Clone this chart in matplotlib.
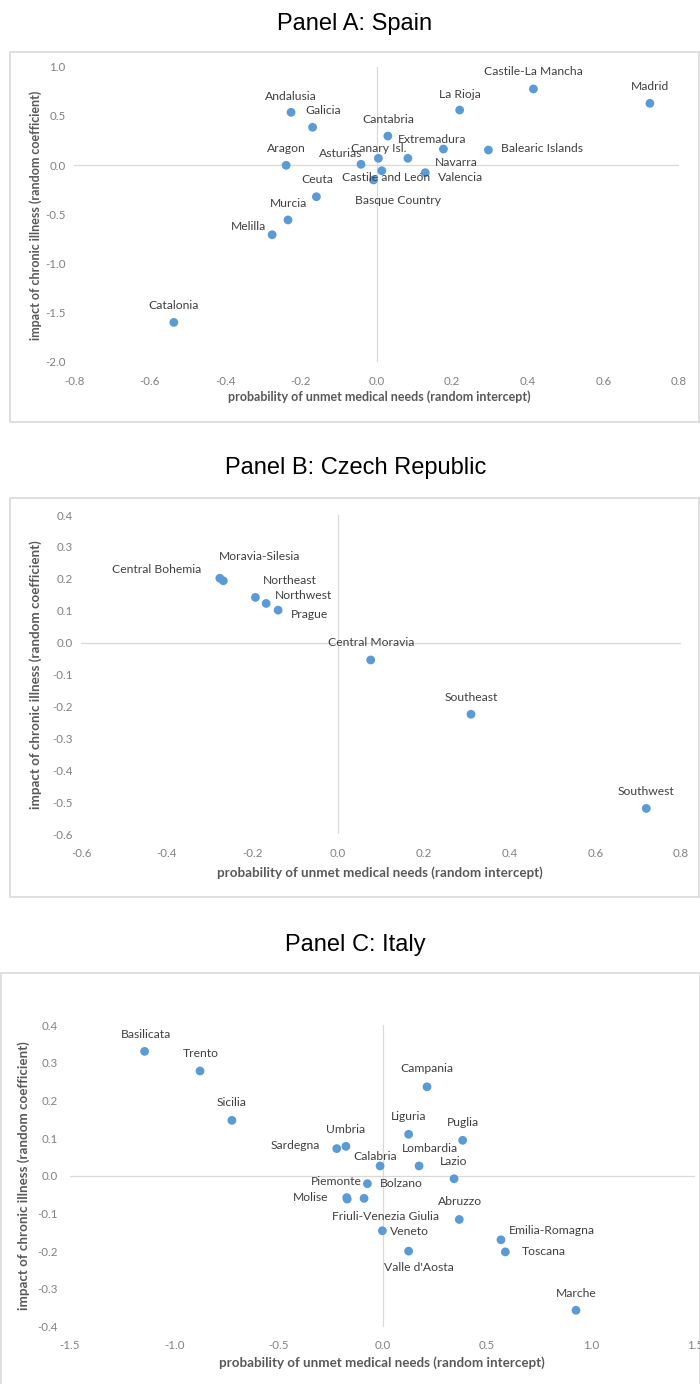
import matplotlib
matplotlib.use("Agg")
import matplotlib.pyplot as plt
from matplotlib.patches import Rectangle

# ---------------- data ----------------
spain_regions = ["Andalusia", "Galicia", "Aragon", "Asturias", "Ceuta", "Murcia", "Melilla",
                 "Catalonia", "Castile-La Mancha", "Madrid", "La Rioja", "Cantabria",
                 "Canary Isl.", "Extremadura", "Navarra", "Valencia", "Basque Country",
                 "Castile and León", "Balearic Islands"]
spain_x = [-0.226, -0.169, -0.239, -0.041, -0.159, -0.234, -0.276, -0.536, 0.415, 0.723,
           0.220, 0.030, 0.005, 0.083, 0.177, 0.129, 0.014, -0.008, 0.296]
spain_y = [0.535, 0.383, -0.003, 0.007, -0.322, -0.558, -0.708, -1.598, 0.772, 0.626,
           0.558, 0.294, 0.068, 0.068, 0.162, -0.078, -0.058, -0.152, 0.152]
spain_xticks = [-0.8, -0.6, -0.4, -0.2, 0.0, 0.2, 0.4, 0.6, 0.8]
spain_yticks = [-2.0, -1.5, -1.0, -0.5, 0.0, 0.5, 1.0]

czech_regions = ["Central Bohemia", "Moravia-Silesia", "Northeast", "Northwest", "Prague",
                 "Central Moravia", "Southeast", "Southwest"]
czech_x = [-0.276, -0.268, -0.193, -0.168, -0.140, 0.076, 0.310, 0.719]
czech_y = [0.202, 0.194, 0.142, 0.123, 0.102, -0.054, -0.224, -0.519]
czech_xticks = [-0.6, -0.4, -0.2, 0.0, 0.2, 0.4, 0.6, 0.8]
czech_yticks = [-0.6, -0.5, -0.4, -0.3, -0.2, -0.1, 0.0, 0.1, 0.2, 0.3, 0.4]

italy_regions = ["Basilicata", "Trento", "Sicilia", "Campania", "Umbria", "Sardegna", "Liguria",
                 "Puglia", "Calabria", "Lombardia", "Lazio", "Piemonte", "Bolzano", "Molise",
                 "Friuli-Venezia Giulia", "Abruzzo", "Veneto", "Valle d'Aosta",
                 "Emilia-Romagna", "Toscana", "Marche"]
italy_x = [-1.142, -0.876, -0.723, 0.213, -0.176, -0.220, 0.125, 0.384, -0.012, 0.175, 0.343,
           -0.073, -0.089, -0.172, -0.170, 0.368, -0.001, 0.125, 0.568, 0.589, 0.928]
italy_y = [0.330, 0.278, 0.147, 0.236, 0.078, 0.072, 0.110, 0.094, 0.026, 0.026, -0.008,
           -0.021, -0.060, -0.058, -0.062, -0.116, -0.146, -0.200, -0.170, -0.202, -0.357]
italy_xticks = [-1.5, -1.0, -0.5, 0.0, 0.5, 1.0, 1.5]
italy_yticks = [-0.4, -0.3, -0.2, -0.1, 0.0, 0.1, 0.2, 0.3, 0.4]

titles = ["Panel A: Spain", "Panel B: Czech Republic", "Panel C: Italy"]
xlabel = "probability of unmet medical needs (random intercept)"
ylabel = "impact of chronic illness (random coefficient)"

# ---------------- label placement (pixel offsets, alignment) ----------------
spain_lab = {
    "Andalusia": (0, 16, "center"), "Galicia": (11, 17, "center"), "Aragon": (0, 17, "center"),
    "Asturias": (1, 11, "right"), "Ceuta": (1, 17, "center"), "Murcia": (0, 16, "center"),
    "Melilla": (-6, 8, "right"), "Catalonia": (0, 17, "center"),
    "Castile-La Mancha": (0, 17, "center"), "Madrid": (0, 17, "center"),
    "La Rioja": (0, 16, "center"), "Cantabria": (0, 17, "center"),
    "Canary Isl.": (0, 10, "center"), "Extremadura": (24, 19, "center"),
    "Navarra": (13, -13, "center"), "Valencia": (13, -5, "left"),
    "Basque Country": (16, -30, "center"), "Castile and León": (13, 2, "center"),
    "Balearic Islands": (13, 2, "left"),
}
czech_lab = {
    "Central Bohemia": (-19, 9, "right"), "Moravia-Silesia": (36, 24, "center"),
    "Northeast": (7, 17, "left"), "Northwest": (9, 8, "left"), "Prague": (13, -4, "left"),
    "Central Moravia": (0, 17, "center"), "Southeast": (0, 17, "center"),
    "Southwest": (0, 17, "center"),
}
italy_lab = {
    "Basilicata": (1, 17, "center"), "Trento": (1, 17, "center"), "Sicilia": (0, 18, "center"),
    "Campania": (0, 18, "center"), "Umbria": (0, 17, "center"), "Sardegna": (-17, 3, "right"),
    "Liguria": (0, 18, "center"), "Puglia": (0, 18, "center"), "Calabria": (-5, 9, "center"),
    "Lombardia": (11, 17, "center"), "Lazio": (0, 17, "center"), "Piemonte": (-6, 2, "right"),
    "Bolzano": (16, 15, "left"), "Molise": (-18, 0, "right"),
    "Friuli-Venezia Giulia": (38, -17, "center"), "Abruzzo": (1, 18, "center"),
    "Veneto": (8, -1, "left"), "Valle d'Aosta": (10, -16, "center"),
    "Emilia-Romagna": (8, 9, "left"), "Toscana": (16, 0, "left"), "Marche": (0, 17, "center"),
}

W, H = 700, 1384
fig = plt.figure(figsize=(W / 100, H / 100), dpi=100)
fig.patch.set_facecolor("white")

FONT = ["Lato", "DejaVu Sans"]
TICKC = "#808080"
LABC = "#404040"
AXC = "#595959"
LINEC = "#d9d9d9"
BORDERC = "#d9d9d9"
PTC = "#5b9bd5"


def fx(px):
    return px / W


def fy(py):
    return 1 - py / H


def box(x0, y0, x1, y1):
    r = Rectangle((fx(x0), fy(y1)), fx(x1) - fx(x0), fy(y0) - fy(y1), transform=fig.transFigure,
                  fill=False, edgecolor=BORDERC, lw=1.2, zorder=0)
    fig.add_artist(r)


def panel(rect_px, xs, ys, names, labs, xlim, ylim, xticks, yticks, xpad, ypad, title, title_xy,
          xlab_xy, ylab_xy, axfs):
    x0, y0, x1, y1 = rect_px
    ax = fig.add_axes([fx(x0), fy(y1), fx(x1) - fx(x0), fy(y0) - fy(y1)])
    ax.set_facecolor("none")
    ax.set_xlim(*xlim)
    ax.set_ylim(*ylim)
    for s in ax.spines.values():
        s.set_visible(False)
    ax.axhline(0, color=LINEC, lw=0.9, zorder=1)
    ax.axvline(0, color=LINEC, lw=0.9, zorder=1)
    ax.set_xticks(xticks)
    ax.set_yticks(yticks)
    ax.set_xticklabels([f"{t:.1f}" for t in xticks], fontsize=8.3, color=TICKC, family=FONT)
    ax.set_yticklabels([f"{t:.1f}" for t in yticks], fontsize=8.3, color=TICKC, family=FONT)
    ax.tick_params(axis="x", length=0, pad=xpad)
    ax.tick_params(axis="y", length=0, pad=ypad)
    ax.scatter(xs, ys, s=40, color=PTC, edgecolors="none", zorder=3)
    for n, x, y in zip(names, xs, ys):
        dx, dy, ha = labs[n]
        ax.annotate(n, (x, y), xytext=(dx, dy), textcoords="offset pixels", ha=ha, va="center",
                    fontsize=8.7, color=LABC, family=FONT, zorder=4)
    fig.text(fx(title_xy[0]), fy(title_xy[1]), title, ha="center", va="center", fontsize=17,
             family=["Liberation Sans", "DejaVu Sans"], color="black")
    fig.text(fx(xlab_xy[0]), fy(xlab_xy[1]), xlabel, ha="center", va="center", fontsize=axfs,
             fontweight="bold", color=AXC, family=FONT)
    fig.text(fx(ylab_xy[0]), fy(ylab_xy[1]), ylabel, ha="center", va="center", fontsize=axfs,
             fontweight="bold", color=AXC, family=FONT, rotation=90)
    return ax


# Panel A
box(10, 52, 699, 422)
panel((74, 66.5, 679, 362), spain_x, spain_y, spain_regions, spain_lab, (-0.8, 0.8), (-2.0, 1.0),
      spain_xticks, spain_yticks, 10, 6, titles[0], (355, 24), (379, 397), (36, 215), 9.0)

# Panel B
box(10, 498, 699, 897)
panel((81, 515, 681, 834.3), czech_x, czech_y, czech_regions, czech_lab, (-0.6, 0.8), (-0.6, 0.4),
      czech_xticks, czech_yticks, 10, 6, titles[1], (356, 468), (380, 873), (36, 675), 9.6)

# Panel C
box(0.5, 973, 699.5, 1400)
panel((70, 1025, 695.2, 1326.5), italy_x, italy_y, italy_regions, italy_lab, (-1.5, 1.5),
      (-0.4, 0.4), italy_xticks, italy_yticks, 10, 9, titles[2], (355, 945), (382, 1363),
      (24, 1176), 9.6)

fig.savefig("out.png", dpi=100, facecolor="white")
